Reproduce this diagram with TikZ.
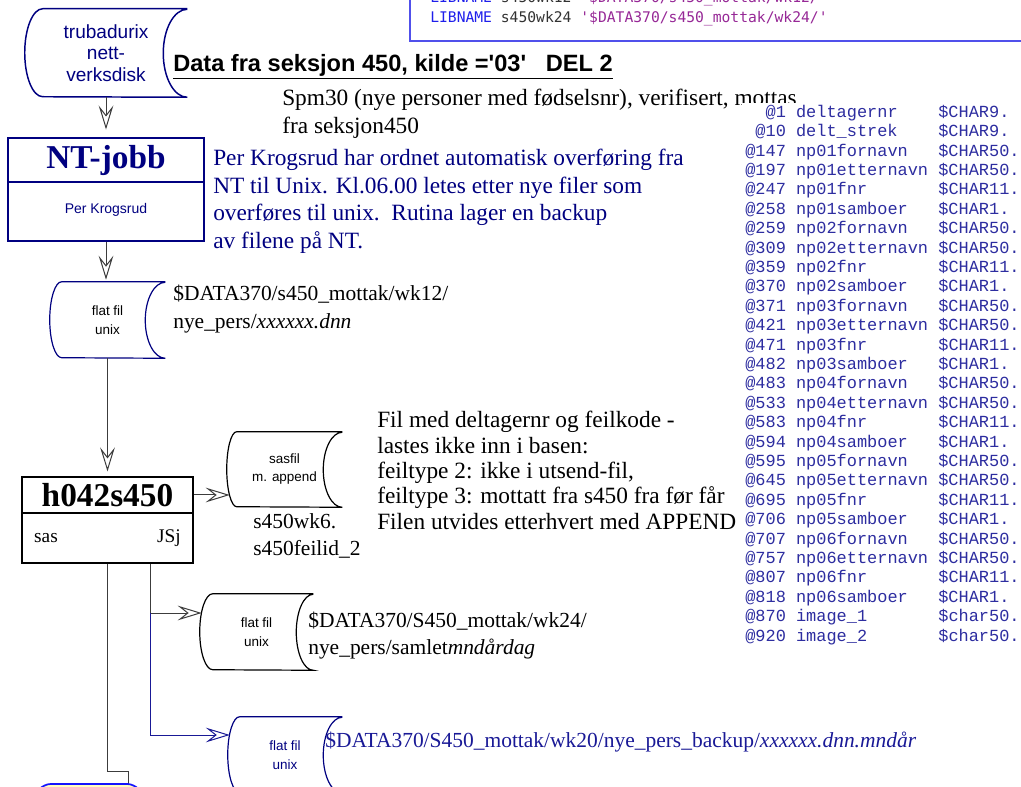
\documentclass[tikz,border=0pt]{standalone}
\usepackage{fontspec}
\setmainfont{Liberation Serif}
\setsansfont{Liberation Sans}
\newfontfamily\lmono{Liberation Mono}
\newfontfamily\dmono{DejaVu Sans Mono}
\usetikzlibrary{arrows.meta}
\definecolor{navy}{RGB}{0,0,128}
\definecolor{lstblue}{RGB}{45,45,160}
\definecolor{boxblue}{RGB}{80,80,235}
\definecolor{kwblue}{RGB}{30,30,235}
\definecolor{strpurple}{RGB}{150,40,150}
\definecolor{codegray}{RGB}{50,50,50}
\definecolor{linegray}{RGB}{60,60,60}
\definecolor{lightyellow}{RGB}{255,255,190}
\definecolor{yblue}{RGB}{20,20,255}
\definecolor{dblue}{RGB}{25,25,150}
% outline of a stored-data (disk) symbol around a node
\newcommand\diskoutline[4]{(#1.north east) -- ([xshift=#2]#1.north west) arc[start angle=90,end angle=270,x radius=#2,y radius=#4] -- (#1.south east) arc[start angle=270,end angle=90,x radius=#3,y radius=#4]}
\begin{document}
\begin{tikzpicture}[x=0.75pt,y=-0.75pt,
  conn/.style={draw=linegray, line width=0.75pt},
  hollow/.style={-{Stealth[length=18pt,width=11pt,inset=7pt,fill=white]}},
  txt/.style={inner sep=0pt, align=left},
  para/.style={txt, font=\fontsize{17.5}{19.7}\selectfont},
  lbl/.style={txt, font=\fontsize{16.1}{21}\selectfont},
  diskn/.style={inner sep=0pt, align=center, font=\sffamily\fontsize{10.1}{14.2}\selectfont},
  diskline/.style={line width=0.9pt},
  ntbox/.style={draw=navy, line width=2.2pt, minimum width=147pt},
  hbox/.style={draw=black, line width=0.8pt, minimum width=128.25pt}
]
\useasboundingbox (0,0) rectangle (1021,787);
\clip (0,0) rectangle (1021,787);

% ---------- top code box ----------
\draw[boxblue, line width=1.1pt] (410,-20) rectangle (1040,41);
\node[anchor=base west, inner sep=0pt, font=\dmono\fontsize{11}{13}\selectfont] (lib1) at (430,2.5)
  {\textcolor{kwblue}{LIBNAME} \textcolor{codegray}{s450wk12} \textcolor{strpurple}{\textquotesingle\$DATA370/s450\_mottak/wk12/\textquotesingle}};
\node[anchor=base west, inner sep=0pt, font=\dmono\fontsize{11}{13}\selectfont] (lib2) at (430,22.5)
  {\textcolor{kwblue}{LIBNAME} \textcolor{codegray}{s450wk24} \textcolor{strpurple}{\textquotesingle\$DATA370/s450\_mottak/wk24/\textquotesingle}};

% ---------- heading and paragraphs ----------
\node[anchor=base west, inner sep=0pt, font=\sffamily\bfseries\fontsize{17.7}{21}\selectfont] (head) at (173,72)
  {\underline{Data fra seksjon 450, kilde =\textquotesingle 03\textquotesingle\ \ \ DEL 2}};
\node[para, anchor=north west, font=\fontsize{17.5}{20.5}\selectfont] (spm) at (282,86.5)
  {\strut Spm30 (nye personer med fødselsnr), verifisert, mottas\\fra seksjon450};
\node[para, anchor=north west, text=navy, font=\fontsize{17.5}{20.6}\selectfont] (perk) at (213,146.5)
  {\strut Per Krogsrud har ordnet automatisk overføring fra\\NT til Unix. Kl.06.00 letes etter nye filer som\\overføres til unix.\ \ Rutina lager en backup\\av filene på NT.};
\node[para, anchor=north west, font=\fontsize{17.5}{19}\selectfont] (filmed) at (377,410)
  {\strut Fil med deltagernr og feilkode -\\lastes ikke inn i basen:\\feiltype 2: ikke i utsend-fil,\\feiltype 3: mottatt fra s450 fra før får\\Filen utvides etterhvert med APPEND};

% ---------- code listing ----------
\fill[white] (742,103) rectangle (1021,645);
\node[anchor=north west, inner sep=0pt, text=lstblue, font=\lmono\fontsize{12.7}{14.55}\selectfont] (lst) at (745,103.4)
{\begin{tabular}{@{}r@{\hspace{7.62pt}}l@{\hspace{7.62pt}}l@{}}
@1 & deltagernr & \$CHAR9.\\
@10 & delt\_strek & \$CHAR9.\\
@147 & np01fornavn & \$CHAR50.\\
@197 & np01etternavn & \$CHAR50.\\
@247 & np01fnr & \$CHAR11.\\
@258 & np01samboer & \$CHAR1.\\
@259 & np02fornavn & \$CHAR50.\\
@309 & np02etternavn & \$CHAR50.\\
@359 & np02fnr & \$CHAR11.\\
@370 & np02samboer & \$CHAR1.\\
@371 & np03fornavn & \$CHAR50.\\
@421 & np03etternavn & \$CHAR50.\\
@471 & np03fnr & \$CHAR11.\\
@482 & np03samboer & \$CHAR1.\\
@483 & np04fornavn & \$CHAR50.\\
@533 & np04etternavn & \$CHAR50.\\
@583 & np04fnr & \$CHAR11.\\
@594 & np04samboer & \$CHAR1.\\
@595 & np05fornavn & \$CHAR50.\\
@645 & np05etternavn & \$CHAR50.\\
@695 & np05fnr & \$CHAR11.\\
@706 & np05samboer & \$CHAR1.\\
@707 & np06fornavn & \$CHAR50.\\
@757 & np06etternavn & \$CHAR50.\\
@807 & np06fnr & \$CHAR11.\\
@818 & np06samboer & \$CHAR1.\\
@870 & image\_1 & \$char50.\\
@920 & image\_2 & \$char50.
\end{tabular}};

% ---------- disks ----------
\node[diskn, text=navy, font=\sffamily\fontsize{14.3}{16.1}\selectfont, minimum width=121.5pt, minimum height=66pt] (d1) at (106,53) {trubadurix\\nett-\\verksdisk};
\draw[navy, line width=1.1pt] \diskoutline{d1}{13.5pt}{18pt}{33pt};

\node[diskn, minimum width=86.25pt, minimum height=57pt] (d2) at (107.5,320) {flat fil\\unix};
\draw[navy, diskline] \diskoutline{d2}{9pt}{15pt}{28.5pt};

\node[diskn, font=\sffamily\fontsize{10.1}{13.5}\selectfont, minimum width=86.25pt, minimum height=56.25pt] (d3) at (284.5,469.5) {sasfil\\m. append};
\draw[black, diskline] \diskoutline{d3}{7.5pt}{14.25pt}{28.125pt};

\node[diskn, minimum width=84.75pt, minimum height=57pt] (d4) at (256.5,632) {flat fil\\unix};
\draw[black, diskline] \diskoutline{d4}{9.75pt}{12.75pt}{28.5pt};

\node[diskn, text=navy, minimum width=85.5pt, minimum height=57pt] (d5) at (285,755) {flat fil\\unix};
\draw[navy, diskline] \diskoutline{d5}{9pt}{14.25pt}{28.5pt};

% ---------- labels ----------
\node[lbl, anchor=north west, font=\fontsize{16.1}{21}\selectfont] (l2) at (173,280.9)
  {\strut\$DATA370/s450\_mottak/wk12/\\nye\_pers/\textit{xxxxxx.dnn}};
\node[lbl, anchor=north west, font=\fontsize{16.1}{20}\selectfont] (l3) at (253,510)
  {\strut s450wk6.\\s450feilid\_2};
\node[lbl, anchor=north west, font=\fontsize{16.1}{20}\selectfont] (l4) at (308,609)
  {\strut\$DATA370/S450\_mottak/wk24/\\nye\_pers/samlet\textit{mndårdag}};
\node[anchor=base west, inner sep=0pt, text=dblue, font=\fontsize{16.1}{19.5}\selectfont] (l5) at (325,747)
  {\$DATA370/S450\_mottak/wk20/nye\_pers\_backup/\textit{xxxxxx.dnn.mndår}};

% ---------- process boxes ----------
\node[ntbox, minimum height=33pt, text=navy, font=\bfseries\fontsize{25}{30}\selectfont] (nt) at (106,160) {NT-jobb};
\node[ntbox, minimum height=44.25pt, text=navy, font=\sffamily\fontsize{10.5}{13}\selectfont] (ntsub) at (106,211.5) {\raisebox{4.9pt}{Per Krogsrud}};

\node[hbox, minimum height=27pt, font=\bfseries\fontsize{25}{30}\selectfont] (h042) at (107.5,495) {h042s450};
\node[hbox, minimum height=37.5pt, font=\fontsize{14.5}{17}\selectfont] (h042sub) at (107.5,538) {\makebox[110pt]{sas\hfill JSj}};

% ---------- connectors ----------
\draw[conn, hollow, shorten >=5.25pt] (d1.south) -- (nt.north);
\draw[conn, hollow, shorten >=1.5pt] (ntsub.south) -- (ntsub.south |- d2.north);
\draw[conn, hollow, shorten >=3.75pt] (d2.south) -- (h042.north);

\coordinate (d3in) at (229.7,495);
\draw[conn, hollow] (h042.east) -- (d3in);

\coordinate (j1) at (150,613);
\coordinate (d4in) at (201.7,613);
\coordinate (j2) at (150,735);
\coordinate (d5in) at (229.8,735);
\draw[conn] (h042sub.south -| j1) -- (j1);
\draw[conn, hollow] (j1) -- (d4in);
\draw[conn, draw=dblue, hollow] (j1) -- (j2) -- (d5in);

\coordinate (k1) at (128,771);
\coordinate (ytop) at (128,784);
\draw[conn] (h042sub.south) |- (k1) -- (ytop);
\draw[yblue, fill=lightyellow, line width=1.3pt, rounded corners=5pt] (30,800) -- (44,784) -- (134,784) -- (148,800);
\end{tikzpicture}
\end{document}
